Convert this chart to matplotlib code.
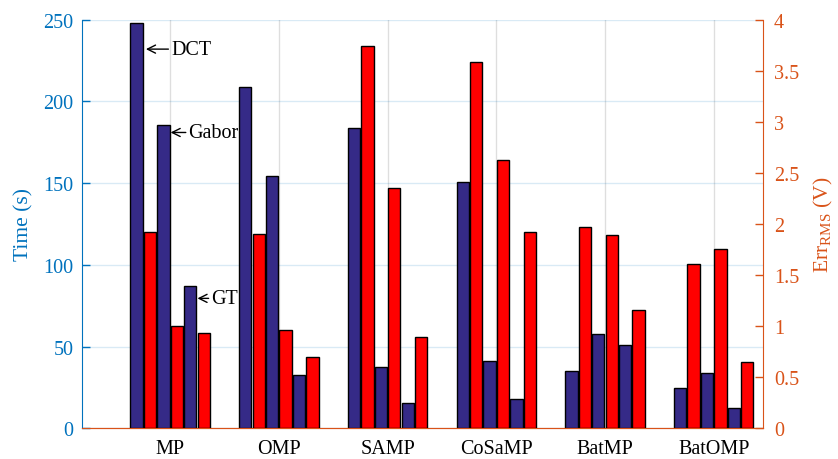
import matplotlib
matplotlib.use("Agg")
import matplotlib.pyplot as plt
from matplotlib.ticker import FormatStrFormatter
import numpy as np

plt.rcParams['font.family'] = ['Liberation Serif', 'DejaVu Serif']
plt.rcParams['mathtext.fontset'] = 'custom'
plt.rcParams['mathtext.rm'] = 'Liberation Serif'

algorithms = ['MP', 'OMP', 'SAMP', 'CoSaMP', 'BatMP', 'BatOMP']
dictionaries = ['DCT', 'Gabor', 'GT']

# Time (s) per algorithm: [DCT, Gabor, GT]
time_dct = [248, 209, 184, 150.5, 35, 24.7]
time_gabor = [185.5, 154.4, 37.5, 41, 57.7, 34]
time_gt = [87, 32.4, 15.7, 17.7, 51, 12.6]

# Err_RMS (V) per algorithm: [DCT, Gabor, GT]
err_dct = [1.92, 1.90, 3.74, 3.59, 1.97, 1.61]
err_gabor = [1.00, 0.96, 2.35, 2.63, 1.89, 1.76]
err_gt = [0.93, 0.70, 0.89, 1.92, 1.16, 0.65]

left_ticks = [0, 50, 100, 150, 200, 250]
right_ticks = [0, 0.5, 1, 1.5, 2, 2.5, 3, 3.5, 4]

c_left = '#0072bd'
c_right = '#d95319'
c_time = '#352a87'
c_err = '#ff0000'

fig = plt.figure(figsize=(8.38, 4.60), dpi=100)
ax = fig.add_axes([82/838, 1 - 429.3/460, (762.7 - 82)/838, (429.3 - 20.7)/460])
ax2 = ax.twinx()

x = np.arange(1, len(algorithms) + 1)
pitch = 0.1235
w = 0.113
times = [time_dct, time_gabor, time_gt]
errs = [err_dct, err_gabor, err_gt]
for k in range(3):
    ax.bar(x + (2 * k - 2.5) * pitch, times[k], width=w, color=c_time,
           edgecolor='black', linewidth=1.0, zorder=3)
    ax2.bar(x + (2 * k + 1 - 2.5) * pitch, errs[k], width=w, color=c_err,
            edgecolor='black', linewidth=1.0, zorder=3)

ax.set_xlim(0.19, 6.45)
ax.set_ylim(0, 250)
ax2.set_ylim(0, 4)
ax.set_yticks(left_ticks)
ax2.set_yticks(right_ticks)
ax2.yaxis.set_major_formatter(FormatStrFormatter('%g'))
ax.set_xticks(x)
ax.set_xticklabels(algorithms, fontsize=14.5)

ax.grid(axis='y', color=c_left, alpha=0.15, linewidth=1.0, zorder=0)
ax.grid(axis='x', color='#262626', alpha=0.15, linewidth=1.0, zorder=0)
ax.set_axisbelow(True)

ax.tick_params(axis='y', direction='in', colors=c_left, labelsize=14.5, length=6, width=1, pad=6)
ax2.tick_params(axis='y', direction='in', colors=c_right, labelsize=14.5, length=6, width=1, pad=8)
ax.tick_params(axis='x', length=0, labelsize=14.5, labelcolor='black', pad=8)

for a in (ax, ax2):
    a.spines['top'].set_visible(False)
ax.spines['left'].set_color(c_left)
ax2.spines['left'].set_visible(False)
ax.spines['right'].set_visible(False)
ax2.spines['right'].set_color(c_right)
ax.spines['bottom'].set_color(c_right)
ax2.spines['bottom'].set_color(c_right)

ax.set_ylabel('Time (s)', color=c_left, fontsize=15.5, labelpad=7)
ax2.set_ylabel(r'Err$_{\mathregular{RMS}}$ (V)', color=c_right, fontsize=15.5, labelpad=9)

# Annotations pointing to the MP group's time bars
ax.annotate('DCT', xy=(x[0] - 2.5 * pitch + w / 2 + 0.03, 232), xytext=(x[0] + 0.01, 232),
            fontsize=14.5, va='center', ha='left',
            arrowprops=dict(arrowstyle='->', color='black', lw=1.0, shrinkA=0, shrinkB=0))
ax.annotate('Gabor', xy=(x[0] - 0.5 * pitch + w / 2 + 0.01, 181), xytext=(x[0] + 0.17, 181),
            fontsize=14.5, va='center', ha='left',
            arrowprops=dict(arrowstyle='->', color='black', lw=1.0, shrinkA=0, shrinkB=0))
ax.annotate('GT', xy=(x[0] + 1.5 * pitch + w / 2 + 0.01, 79.5), xytext=(x[0] + 0.38, 79.5),
            fontsize=14.5, va='center', ha='left',
            arrowprops=dict(arrowstyle='->', color='black', lw=1.0, shrinkA=0, shrinkB=0))

fig.savefig('out.png', dpi=100)
